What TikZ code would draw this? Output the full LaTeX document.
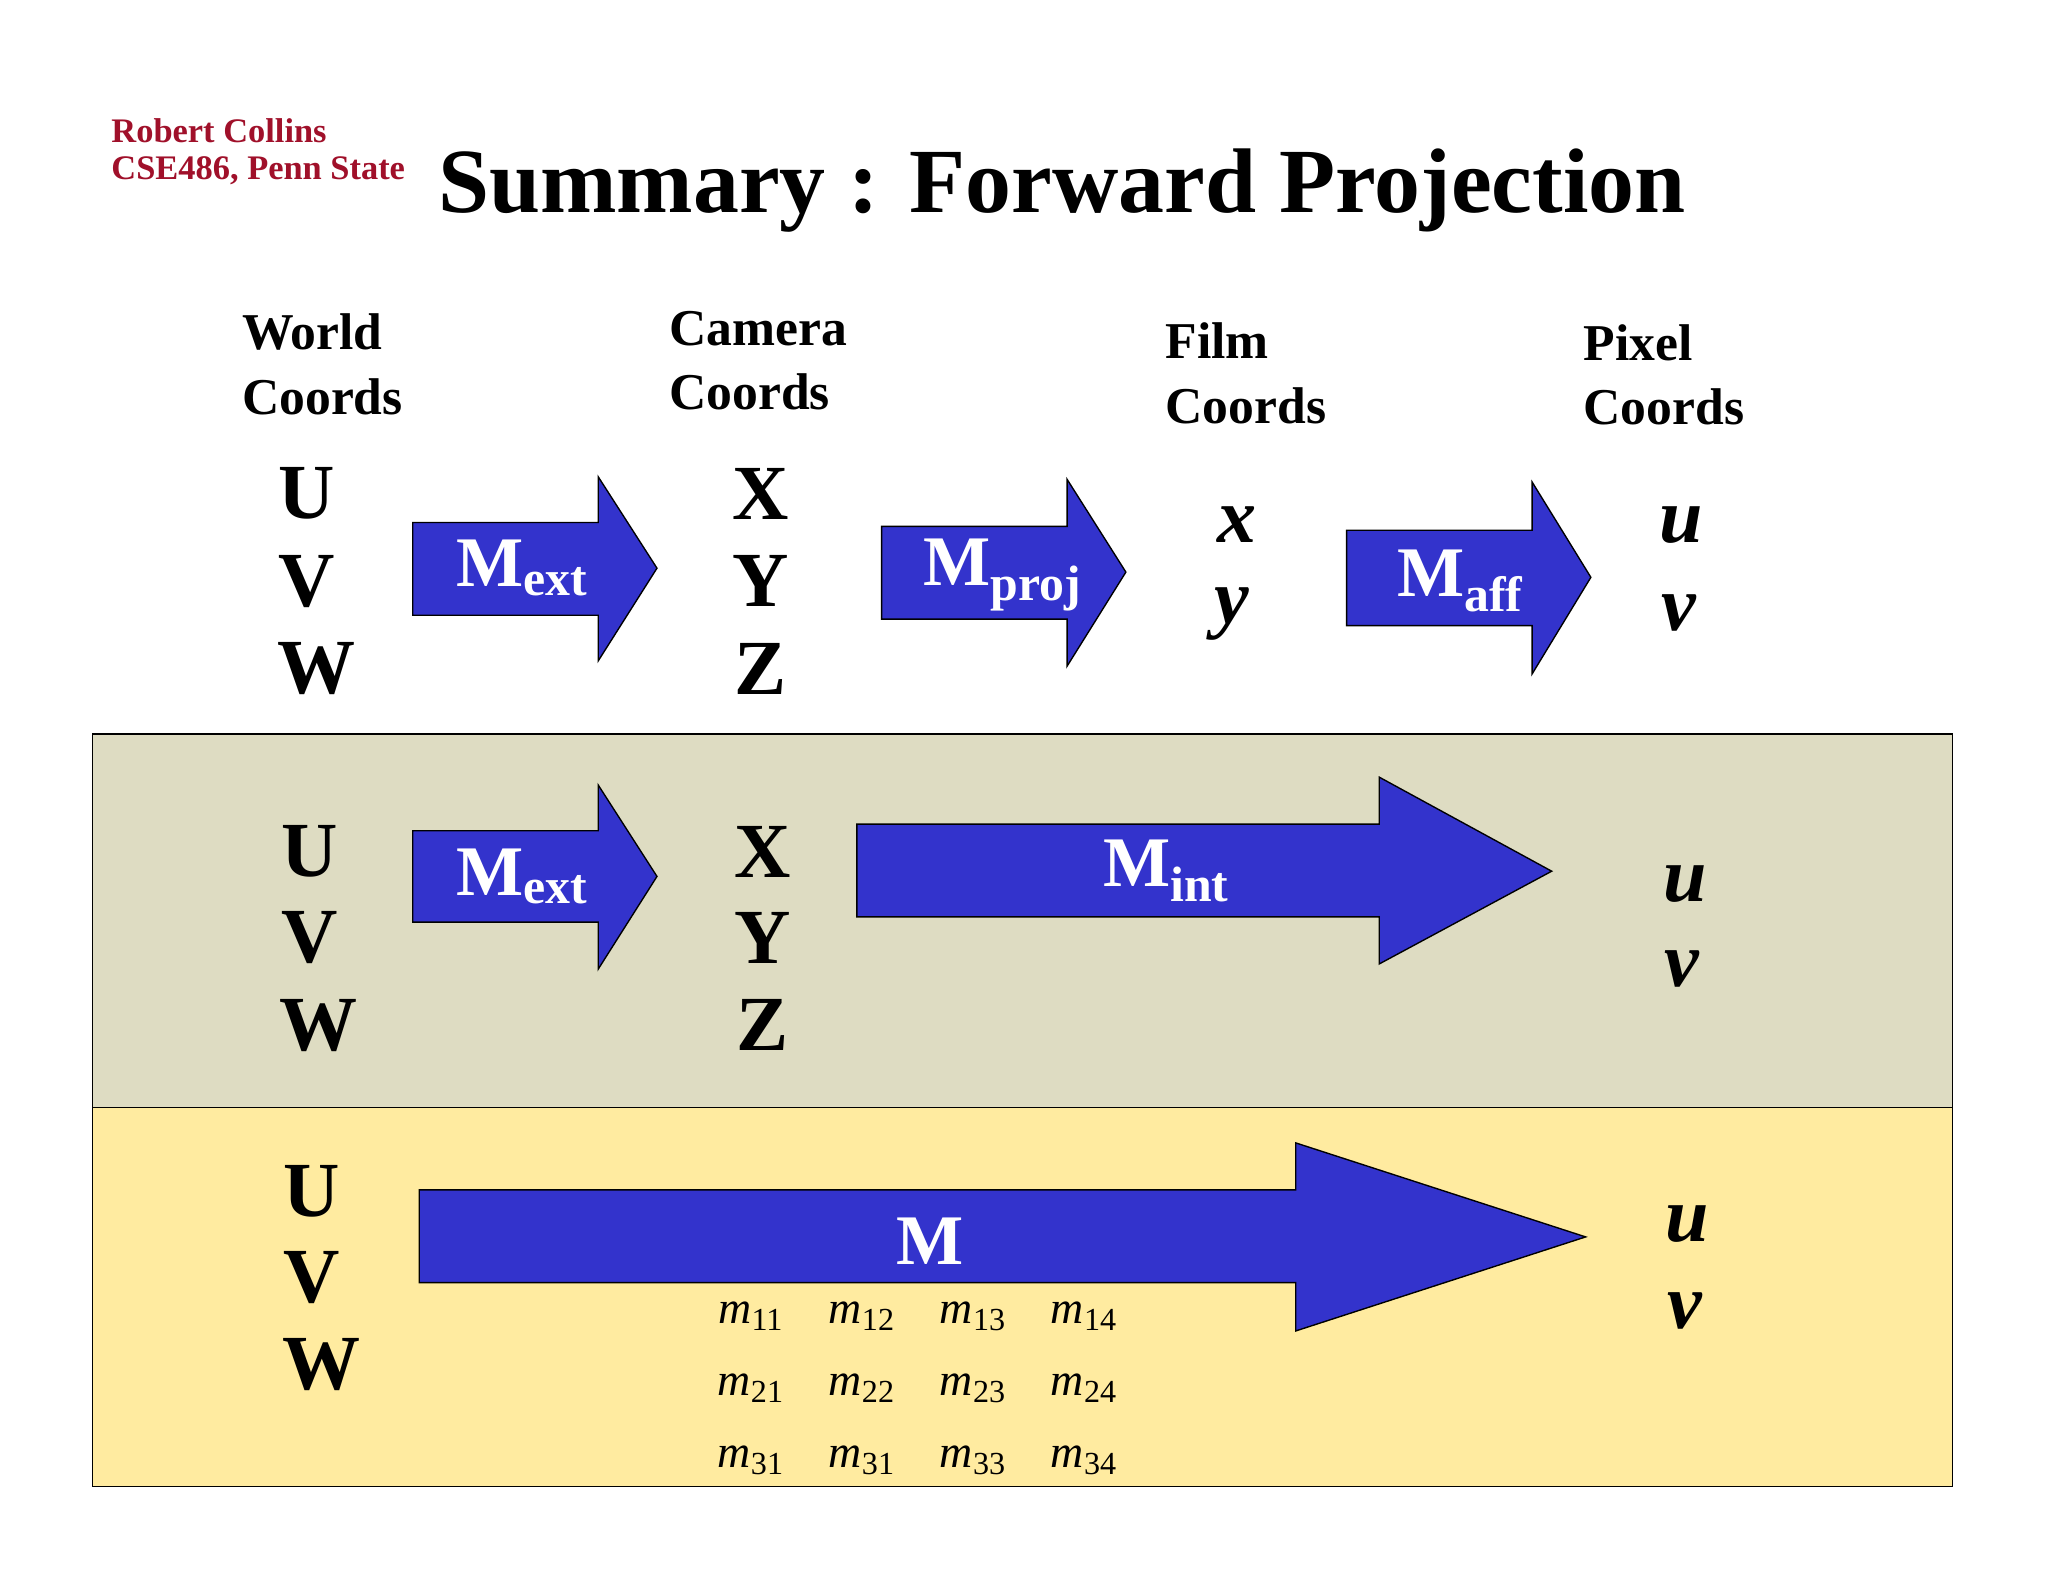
\documentclass[tikz,border=0pt]{standalone}
\usepackage{fontspec}
\setmainfont{Liberation Serif}
\begin{document}
\begin{tikzpicture}[x=0.02cm,y=-0.02cm,
  lbl/.style={font=\bfseries\fontsize{34}{40}\selectfont,inner sep=0},
  ilbl/.style={font=\bfseries\itshape\fontsize{34}{40}\selectfont,inner sep=0},
  hdr/.style={font=\bfseries\fontsize{22.5}{28}\selectfont,align=left,anchor=north west,inner sep=0},
  arr/.style={fill=arrblue,draw=black,line width=0.6pt},
  alab/.style={text=white,font=\bfseries\fontsize{31}{36}\selectfont,inner sep=0},
  mm/.style={font=\fontsize{20}{24}\selectfont,inner sep=0}]
\definecolor{arrblue}{HTML}{3333CC}
\definecolor{redc}{HTML}{A0102A}
\useasboundingbox (0,0) rectangle (1568,1211);
\fill[white] (0,0) rectangle (1568,1211);
\filldraw[fill={rgb,255:red,222;green,220;blue,194},draw=black,line width=0.6pt] (71,562) rectangle (1495,848);
\filldraw[fill={rgb,255:red,255;green,235;blue,160},draw=black,line width=0.6pt] (71,848) rectangle (1495,1138);
\node[anchor=west,text=redc,font=\bfseries\fontsize{15}{18}\selectfont,inner sep=0] (a1) at (85,100) {Robert Collins};
\node[anchor=west,text=redc,font=\bfseries\fontsize{15}{18}\selectfont,inner sep=0] (a2) at (85,131) {CSE486, Penn State};
\node[font=\bfseries\fontsize{40}{46}\selectfont,inner sep=0] (t) at (813,146) {Summary : Forward Projection};
\node[hdr] (h1) at (185,240) {World\\Coords};
\node[hdr] (h2) at (512,238) {Camera\\Coords};
\node[hdr] (h3) at (892,247) {Film\\Coords};
\node[hdr] (h4) at (1212,248) {Pixel\\Coords};
% row1
\node[lbl] (u1) at (235,378) {U}; \node[lbl] (v1) at (235,445) {V}; \node[lbl] (w1) at (242,512) {W};
\node[lbl] (x1) at (582,378) {X}; \node[lbl] (y1) at (582,445) {Y}; \node[lbl] (z1) at (582,512) {Z};
\node[ilbl] (fx) at (947,402) {x};
\node[ilbl] (fy) at (943,470) {y};
\node[ilbl] (pu) at (1287,402) {u};
\node[ilbl] (pv) at (1285,469) {v};
\draw[arr] (316,400)--(458,400)--(458,365)--(503,435)--(458,506)--(458,471)--(316,471)--cycle;
\node[alab] (m1) at (400,435) {M\textsubscript{ext}};
\draw[arr] (675,403)--(817,403)--(817,367)--(862,438)--(817,510)--(817,474)--(675,474)--cycle;
\node[alab] (m2) at (768,440) {M\textsubscript{proj}};
\draw[arr] (1031,406)--(1173,406)--(1173,369)--(1218,442)--(1173,516)--(1173,479)--(1031,479)--cycle;
\node[alab] (m3) at (1118,445) {M\textsubscript{aff}};
% row2
\node[lbl] (u2) at (237,652) {U}; \node[lbl] (v2) at (237,718) {V}; \node[lbl] (w2) at (244,785) {W};
\node[lbl] (x2) at (584,652) {X}; \node[lbl] (y2) at (584,718) {Y}; \node[lbl] (z2) at (584,785) {Z};
\node[ilbl] (pu2) at (1290,677) {u};
\node[ilbl] (pv2) at (1288,742) {v};
\draw[arr] (316,636)--(458,636)--(458,601)--(503,671)--(458,742)--(458,706)--(316,706)--cycle;
\node[alab] (m4) at (400,671) {M\textsubscript{ext}};
\draw[arr] (656,631)--(1056,631)--(1056,595)--(1188,667)--(1056,738)--(1056,702)--(656,702)--cycle;
\node[alab] (m5) at (893,667) {M\textsubscript{int}};
% row3
\node[lbl] (u3) at (239,912) {U}; \node[lbl] (v3) at (239,978) {V}; \node[lbl] (w3) at (246,1045) {W};
\node[ilbl] (pu3) at (1292,937) {u};
\node[ilbl] (pv3) at (1290,1004) {v};
\draw[arr] (321,911)--(992,911)--(992,875)--(1214,947)--(992,1019)--(992,982)--(321,982)--cycle;
\node[alab] (m6) at (712,950) {M};
\foreach \r/\yy in {1/1008,2/1063,3/1118}{
  \foreach \c/\xx in {1/575,2/660,3/745,4/830}{
    \pgfmathtruncatemacro{\cc}{(\r==3 && \c==2) ? 1 : \c}
    \node[mm] (e\r\c) at (\xx,\yy) {\textit{m}\textsubscript{\r\cc}};
  }}
\end{tikzpicture}
\end{document}
